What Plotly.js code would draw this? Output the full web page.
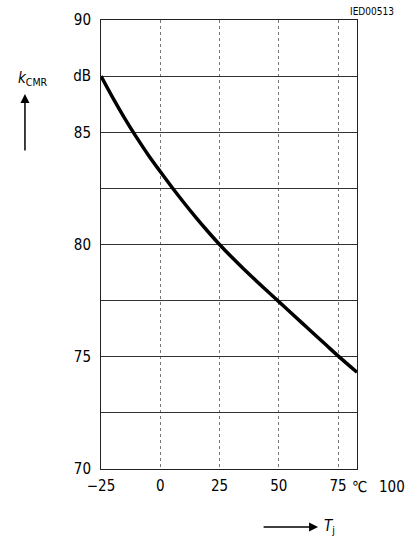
<!DOCTYPE html>
<html>
<head>
<meta charset="utf-8">
<script src="https://cdn.plot.ly/plotly-3.0.1.min.js"></script>
<style>html,body{margin:0;padding:0;background:#fff;}#chart{width:417px;height:545px;}</style>
</head>
<body>
<div id="chart"></div>
<script>
// Junction temperature Tj (°C)
var tj = [-25, -20, -15, -10, -5, 0, 5, 10, 15, 20, 25, 30, 35, 40, 45, 50, 55, 60, 65, 70, 75, 83];
// Common-mode rejection kCMR (dB)
var kcmr = [87.5, 86.53, 85.62, 84.77, 83.98, 83.25, 82.54, 81.86, 81.21, 80.59, 80.0, 79.45, 78.93, 78.43, 77.94, 77.455, 76.97, 76.485, 76.0, 75.52, 75.04, 74.31];

var xTickVals = [-25, 0, 25, 50, 75];
var xTickText = ['\u221225', '0', '25', '50', '75'];
var yTickVals = [70, 72.5, 75, 77.5, 80, 82.5, 85, 87.5, 90];
var yTickText = ['70', '', '75', '', '80', '', '85', 'dB', '90'];

var FONT = 'DejaVu Sans Condensed, DejaVu Sans, sans-serif';

var trace = {
  x: tj, y: kcmr, type: 'scatter', mode: 'lines',
  line: {color: '#000', width: 3.5, shape: 'spline', smoothing: 1},
  hoverinfo: 'skip'
};

var layout = {
  width: 417, height: 545,
  margin: {l: 101, r: 60, t: 20, b: 76},
  paper_bgcolor: '#fff', plot_bgcolor: '#fff',
  showlegend: false,
  font: {family: FONT, size: 15, color: '#000'},
  xaxis: {
    range: [-25, 83], tickmode: 'array', tickvals: xTickVals, ticktext: xTickText,
    showgrid: true, gridcolor: '#777', gridwidth: 1, griddash: 'dot',
    zeroline: false, showline: true, linecolor: '#222', linewidth: 1, mirror: true,
    ticks: '', ticklabelstandoff: 3,
    tickfont: {family: FONT, size: 15, color: '#000'}
  },
  yaxis: {
    range: [70, 90], tickmode: 'array', tickvals: yTickVals, ticktext: yTickText,
    showgrid: true, gridcolor: '#333', gridwidth: 1,
    zeroline: false, showline: true, linecolor: '#222', linewidth: 1, mirror: true,
    ticks: '', ticklabelstandoff: 6,
    tickfont: {family: FONT, size: 15, color: '#000'}
  },
  annotations: [
    {xref: 'paper', yref: 'paper', x: 1.01, y: -0.04, text: '\u2103', showarrow: false,
     xanchor: 'center', yanchor: 'middle', font: {family: FONT, size: 15}},
    {xref: 'paper', yref: 'paper', x: 1.135, y: -0.04, text: '100', showarrow: false,
     xanchor: 'center', yanchor: 'middle', font: {family: FONT, size: 15}},
    {xref: 'paper', yref: 'paper', x: 1.06, y: 1.02, text: 'IED00513', showarrow: false,
     xanchor: 'center', yanchor: 'middle', font: {family: FONT, size: 10}},
    {xref: 'paper', yref: 'paper', x: -0.265, y: 0.87, text: '<i>k</i><sub>CMR</sub>', showarrow: false,
     xanchor: 'center', yanchor: 'middle', font: {family: FONT, size: 15}},
    {xref: 'paper', yref: 'paper', x: -0.297, y: 0.835, text: '', showarrow: true,
     ax: 0, ay: 58, arrowhead: 2, arrowsize: 1.2, arrowwidth: 1.5, arrowcolor: '#000'},
    {xref: 'paper', yref: 'paper', x: 0.848, y: -0.129, text: '', showarrow: true,
     ax: -56, ay: 0, arrowhead: 2, arrowsize: 1.2, arrowwidth: 1.5, arrowcolor: '#000'},
    {xref: 'paper', yref: 'paper', x: 0.865, y: -0.129, text: '<i>T</i><sub>j</sub>', showarrow: false,
     xanchor: 'left', yanchor: 'middle', font: {family: FONT, size: 15}}
  ]
};

Plotly.newPlot('chart', [trace], layout, {displayModeBar: false, staticPlot: true});
</script>
</body>
</html>
